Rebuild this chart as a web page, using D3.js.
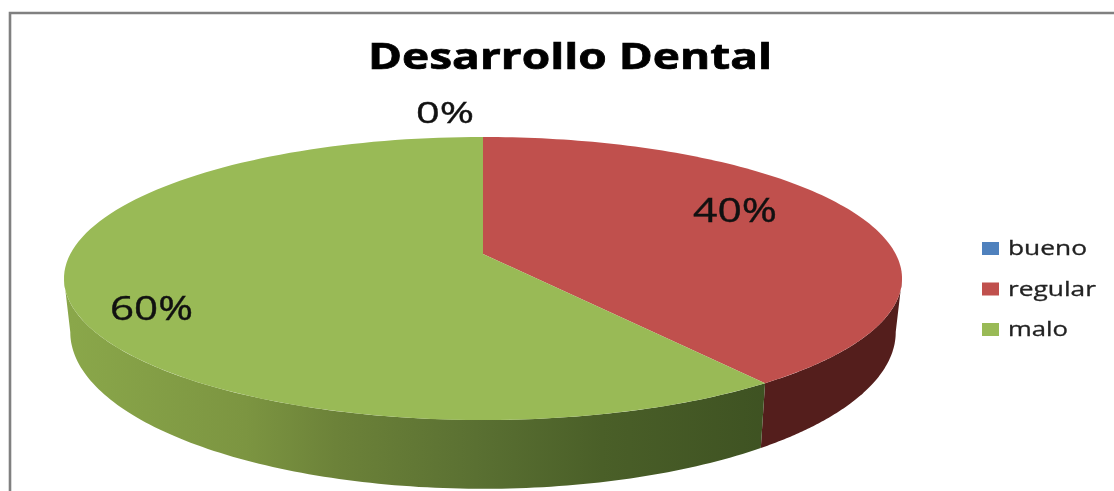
<!DOCTYPE html>
<html><head><meta charset="utf-8">
<script src="https://cdn.jsdelivr.net/npm/d3@7"></script>
<style>html,body{margin:0;padding:0;background:#fff}svg{display:block;filter:blur(0.7px)}</style>
</head><body><svg id="c" width="1114" height="491"></svg>
<script>
const title = "Desarrollo Dental";
const categories = ["bueno", "regular", "malo"];
const values = [0, 40, 60];
const labels = ["0%", "40%", "60%"];
const colors = ["#4f81bd", "#c0504d", "#99ba56"];
const sideColors = ["#3b5a85", "#541e1c", null];

const W = 1114, H = 491;
const svg = d3.select("#c");
const font = "'Open Sans', sans-serif";

// perspective projection of the unit disc
const k = 0.173;
const topDisc = {x0: 483, y0: 254, a: 412.7, b: 137.3};
const botDisc = {x0: 483, y0: 305, a: 406.5, b: 152};
const project = (d, t) => {
  const u = Math.sin(t), v = Math.cos(t), w = 1 + k * v;
  return [d.x0 + d.a * u / w, d.y0 - d.b * v / w];
};
const line = d3.line();
const tMin = Math.acos(-k), tMax = 2 * Math.PI - tMin;
const arcs = d3.pie().sort(null).value(d => d)(values);
const steps = (a, b) => d3.range(0, 121).map(i => a + (b - a) * i / 120);

// frame
svg.append("path").attr("d", line([[W, 13], [10, 13], [10, H]]))
  .attr("fill", "none").attr("stroke", "#808080").attr("stroke-width", 2.6);

// gradient for the green wall
const grad = svg.append("defs").append("linearGradient").attr("id", "wall")
  .attr("gradientUnits", "userSpaceOnUse").attr("x1", 70).attr("x2", 770).attr("y1", 0).attr("y2", 0);
[[0, "#8aa74a"], [.25, "#7c9541"], [.38, "#6c8239"], [.58, "#5a7032"], [.76, "#4a5f28"], [1, "#3e5222"]]
  .forEach(s => grad.append("stop").attr("offset", s[0]).attr("stop-color", s[1]));

// walls
arcs.forEach((d, i) => {
  const a = Math.max(d.startAngle, tMin), b = Math.min(d.endAngle, tMax);
  if (b <= a) return;
  const ts = steps(a, b);
  const pts = ts.map(t => project(topDisc, t)).concat(ts.slice().reverse().map(t => project(botDisc, t)));
  svg.append("path").attr("d", line(pts) + "Z")
    .attr("fill", sideColors[i] || "url(#wall)");
});

// top faces
arcs.forEach((d, i) => {
  if (d.endAngle <= d.startAngle) return;
  const pts = [[topDisc.x0, topDisc.y0]].concat(steps(d.startAngle, d.endAngle).map(t => project(topDisc, t)));
  svg.append("path").attr("d", line(pts) + "Z").attr("fill", colors[i]);
});

// title
svg.append("text").attr("x", 570).attr("y", 69).attr("text-anchor", "middle")
  .attr("font-family", font).attr("font-weight", 700).attr("font-size", 36)
  .attr("textLength", 404).attr("lengthAdjust", "spacingAndGlyphs")
  .attr("fill", "#000").attr("stroke", "#000").attr("stroke-width", 0.7).text(title);

// data labels
const labelPos = [[445, 123, 58, 30], [735, 222, 84, 32], [151.5, 320, 83, 32]];
labels.forEach((t, i) => {
  svg.append("text").attr("x", labelPos[i][0]).attr("y", labelPos[i][1]).attr("text-anchor", "middle")
    .attr("font-family", font).attr("font-size", labelPos[i][3])
    .attr("textLength", labelPos[i][2]).attr("lengthAdjust", "spacingAndGlyphs")
    .attr("fill", "#111").attr("stroke", "#111").attr("stroke-width", 0.4).text(t);
});

// legend
const legendY = d3.scalePoint().domain(categories).range([255, 336]);
const legendW = {bueno: 79, regular: 88, malo: 60};
categories.forEach((c, i) => {
  const y = legendY(c);
  svg.append("rect").attr("x", 982).attr("y", y - 13).attr("width", 17).attr("height", 13).attr("fill", colors[i]);
  svg.append("text").attr("x", 1008).attr("y", y).attr("font-family", font).attr("font-size", 20)
    .attr("textLength", legendW[c]).attr("lengthAdjust", "spacingAndGlyphs")
    .attr("fill", "#222").attr("stroke", "#222").attr("stroke-width", 0.3).text(c);
});
</script></body></html>
